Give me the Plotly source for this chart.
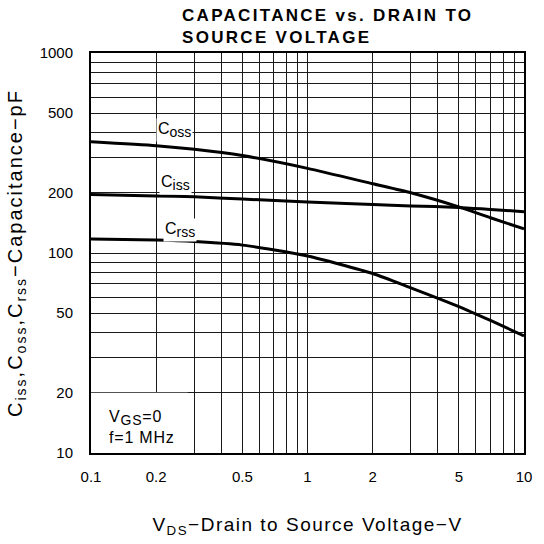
import math
import plotly.graph_objects as go

# Data (log-log)
vds = [0.1, 0.2, 0.3, 0.5, 1, 2, 3, 5, 7, 10]
coss = [360, 344, 330, 307, 265, 222, 200, 170, 150, 132]
ciss = [196, 193, 191, 186, 180, 175, 172, 169, 165, 161]
crss = [117.6, 116, 114, 109.5, 96.6, 79, 67, 54, 46, 38.5]

x_grid = [0.1, 0.2, 0.3, 0.4, 0.5, 0.6, 0.7, 0.8, 0.9, 1, 2, 3, 4, 5, 6, 7, 8, 9, 10]
x_labels = {0.1: "0.1", 0.2: "0.2", 0.5: "0.5", 1: "1", 2: "2", 5: "5", 10: "10"}
y_grid = [10, 20, 30, 40, 50, 60, 70, 80, 90, 100, 200, 300, 400, 500, 600, 700, 800, 900, 1000]
y_labels = {10: "10", 20: "20", 50: "50", 100: "100", 200: "200", 500: "500", 1000: "1000"}
title_lines = ["CAPACITANCE vs. DRAIN TO", "SOURCE VOLTAGE"]

font = "Liberation Sans, Arial, sans-serif"
L = math.log10

def sub(s, px):
    return '<sub><span style="font-size:%dpx">%s</span></sub>' % (px, s)

fig = go.Figure()
for name, ys in [("Coss", coss), ("Ciss", ciss), ("Crss", crss)]:
    fig.add_trace(go.Scatter(x=vds, y=ys, mode="lines", name=name,
                             line=dict(color="black", width=3, shape="spline", smoothing=0.6),
                             showlegend=False))

axis_common = dict(type="log", showgrid=True, gridcolor="#1a1a1a", gridwidth=1,
                   showline=True, linecolor="black", linewidth=2, mirror=True,
                   ticks="", zeroline=False,
                   tickfont=dict(family=font, size=15, color="black"))

fig.update_xaxes(range=[-1, 1], tickvals=x_grid,
                 ticktext=[x_labels.get(v, "") for v in x_grid],
                 ticklabelstandoff=9,
                 title=dict(text='<span style="letter-spacing:1.5px">V<sub>DS</sub>\u2212Drain to Source Voltage\u2212V</span>',
                            font=dict(family=font, size=19, color="black"), standoff=34),
                 **axis_common)
fig.update_yaxes(range=[1, 3], tickvals=y_grid,
                 ticktext=[y_labels.get(v, "") for v in y_grid],
                 ticklabelstandoff=13,
                 title=dict(text='<span style="letter-spacing:2px">C<sub>iss</sub>,C<sub>oss</sub>,C<sub>rss</sub>\u2212Capacitance\u2212pF</span>',
                            font=dict(family=font, size=20, color="black"), standoff=12),
                 **axis_common)

# white area behind the conditions note
fig.add_shape(type="rect", x0=0.1, x1=0.28, y0=10, y1=20, xref="x", yref="y",
              fillcolor="white", line=dict(width=0), layer="between")

ann_font = dict(family=font, size=16, color="black")
fig.add_annotation(x=L(0.2), y=L(413), xref="x", yref="y", text="C" + sub("oss", 14), showarrow=False,
                   xanchor="left", yanchor="middle", bgcolor="white", font=ann_font, borderpad=1)
fig.add_annotation(x=L(0.207), y=L(224), xref="x", yref="y", text="C" + sub("iss", 14), showarrow=False,
                   xanchor="left", yanchor="middle", bgcolor="white", font=ann_font, borderpad=1)
fig.add_annotation(x=L(0.216), y=L(131), xref="x", yref="y", text="C" + sub("rss", 14), showarrow=False,
                   xanchor="left", yanchor="middle", bgcolor="white", font=ann_font, borderpad=1)
note_font = dict(family=font, size=16, color="black")
fig.add_annotation(x=L(0.119), y=L(15.0), xref="x", yref="y",
                   text='<span style="letter-spacing:0.8px">V' + sub("GS", 14) + '=0</span>', showarrow=False,
                   xanchor="left", yanchor="middle", font=note_font)
fig.add_annotation(x=L(0.119), y=L(12.0), xref="x", yref="y",
                   text='<span style="letter-spacing:0.8px">f=1 MHz</span>', showarrow=False,
                   xanchor="left", yanchor="middle", font=note_font)

# Title (two lines, tight pitch, boxes touching but not overlapping)
plot_top, plot_h = 53, 406
def py(ypx):
    return (plot_top + plot_h - ypx) / plot_h

title_font = dict(family=font, size=17, color="black")
fig.add_annotation(x=(182 - 91) / 439, y=py(26), xref="paper", yref="paper",
                   text='<b><span style="letter-spacing:2.3px">%s</span></b>' % title_lines[0],
                   showarrow=False, xanchor="left", yanchor="bottom", font=title_font, borderpad=0)
fig.add_annotation(x=(182 - 91) / 439, y=py(26.5), xref="paper", yref="paper",
                   text='<b><span style="letter-spacing:2.3px">%s</span></b>' % title_lines[1],
                   showarrow=False, xanchor="left", yanchor="top", font=title_font, borderpad=0)

fig.update_layout(
    width=544, height=544,
    margin=dict(l=91, r=14, t=53, b=85),
    paper_bgcolor="white", plot_bgcolor="white",
)

fig.write_html("out.html", config={"displayModeBar": False},
               post_script="document.body.style.margin='0';")
